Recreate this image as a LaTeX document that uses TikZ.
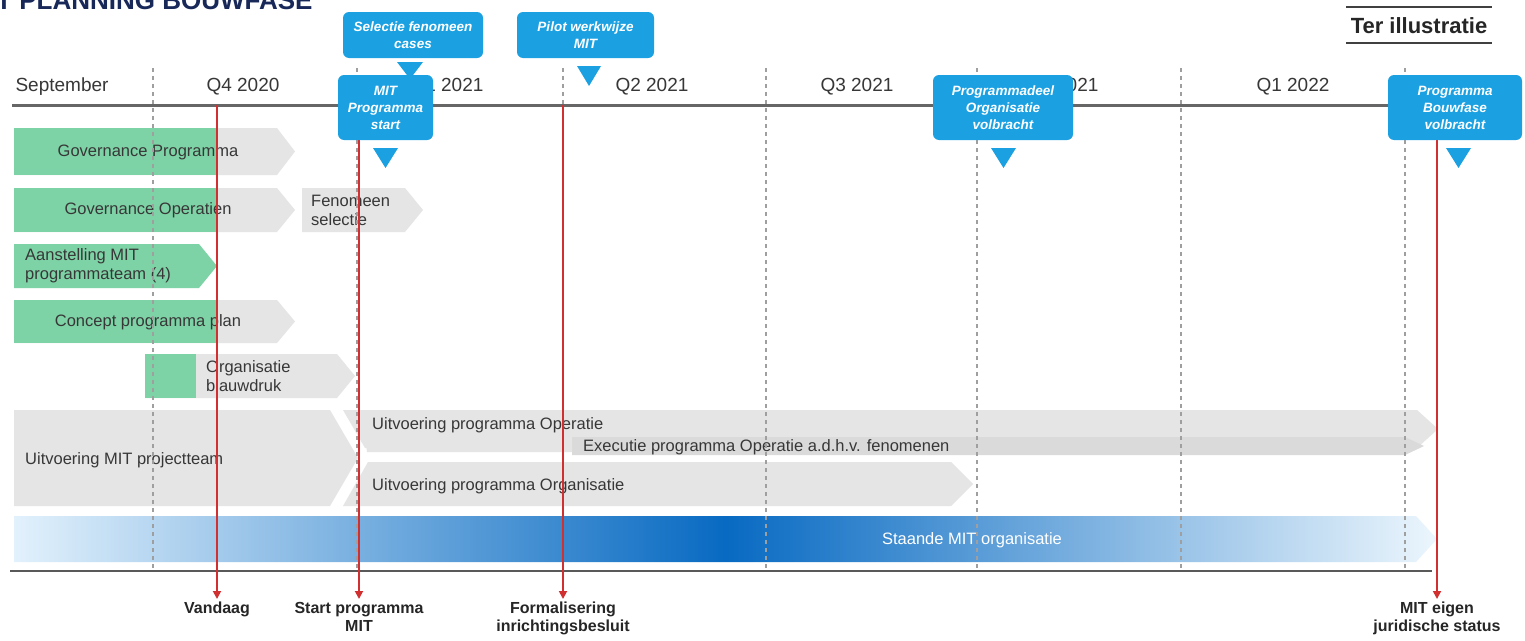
\documentclass[tikz,border=0pt]{standalone}
\usepackage{fontspec}
\setmainfont{Liberation Sans}
\usetikzlibrary{arrows.meta,calc}
\definecolor{bargray}{RGB}{229,229,229}
\definecolor{bargraydk}{RGB}{218,218,218}
\definecolor{mint}{RGB}{126,211,166}
\definecolor{callblue}{RGB}{27,161,226}
\definecolor{redln}{RGB}{208,48,48}
\definecolor{navy}{RGB}{24,40,88}
\definecolor{txt}{RGB}{55,55,55}
\definecolor{lightblue}{RGB}{226,241,252}
\definecolor{lightblueR}{RGB}{236,246,253}
\definecolor{deepblue}{RGB}{8,106,194}
\begin{document}
\begin{tikzpicture}[x=1pt,y=-1pt,
  bartext/.style={font=\fontsize{16.5}{19}\selectfont, text=txt, inner sep=0pt, align=left},
  qlabel/.style={font=\fontsize{19}{22}\selectfont, text=txt, inner sep=0pt},
  callout/.style={fill=callblue, rounded corners=6pt, text=white,
    font=\fontsize{13.5}{17}\selectfont\bfseries\itshape, align=center, inner sep=0pt},
  tri/.style={fill=callblue},
  grid/.style={draw=gray!75, line width=1.8pt, dash pattern=on 4pt off 4pt},
  redarrow/.style={draw=redln, line width=1.8pt, -{Triangle[length=8pt,width=8pt]}},
  milestone/.style={font=\fontsize{16}{18}\selectfont\bfseries, text=black!85, align=center, inner sep=0pt, anchor=north},
  ]
\useasboundingbox (0,0) rectangle (1525,640);
\fill[white] (0,0) rectangle (1525,640);

% title (cut off at top)
\node[anchor=base west, inner sep=0pt, font=\fontsize{26}{28}\selectfont\bfseries, text=navy] (title) at (-4,9) {T PLANNING BOUWFASE};

% Ter illustratie
\node[inner sep=0pt, font=\fontsize{22}{24}\selectfont\bfseries, text=black!85] (ter) at (1419,26) {Ter illustratie};
\draw[black!75, line width=1.6pt] (1346,7) -- (1492,7);
\draw[black!75, line width=1.6pt] (1346,43) -- (1492,43);

% timeline
\coordinate (tlL) at (12,105);
\coordinate (tlR) at (1500,105);
\draw[gray!80!black, line width=3pt] (tlL) -- (tlR);
\coordinate (blL) at (10,571);
\coordinate (blR) at (1432,571);
\draw[gray!70!black, line width=2.5pt] (blL) -- (blR);

% quarter labels
\node[qlabel] (qsep) at (62,87) {September};
\node[qlabel] (q420) at (243,87) {Q4 2020};
\node[qlabel] (q121) at (447,87) {Q1 2021};
\node[qlabel] (q221) at (652,87) {Q2 2021};
\node[qlabel] (q321) at (857,87) {Q3 2021};
\node[qlabel] (q421) at (1062,87) {Q4 2021};
\node[qlabel] (q122) at (1293,87) {Q1 2022};

% row 1
\fill[bargray] (14,128) -- (277,128) -- (295,151.5) -- (277,175) -- (14,175) -- cycle;
\fill[mint] (14,128) rectangle (217,175);
\node[bartext] (r1) at (148,152) {Governance Programma};
% row 2
\fill[bargray] (14,188) -- (277,188) -- (295,210) -- (277,232) -- (14,232) -- cycle;
\fill[mint] (14,188) rectangle (217,232);
\node[bartext] (r2) at (148,210) {Governance Operatien};
\fill[bargray] (302,188) -- (405,188) -- (423,210) -- (405,232) -- (302,232) -- cycle;
\node[bartext, anchor=west] (r2b) at (311,210) {Fenomeen\\selectie};
% row 3
\fill[mint] (14,244) -- (199,244) -- (217,266) -- (199,288) -- (14,288) -- cycle;
\node[bartext, anchor=west] (r3) at (25,266) {Aanstelling MIT\\programmateam (4)};
% row 4
\fill[bargray] (14,300) -- (277,300) -- (295,321.5) -- (277,343) -- (14,343) -- cycle;
\fill[mint] (14,300) rectangle (217,343);
\node[bartext] (r4) at (148,322) {Concept programma plan};
% row 5
\fill[bargray] (145,354) -- (337,354) -- (355,376) -- (337,398) -- (145,398) -- cycle;
\fill[mint] (145,354) rectangle (196,398);
\node[bartext, anchor=west] (r5) at (206,376) {Organisatie\\blauwdruk};

% row 6 big chevron
\fill[bargray] (14,410) -- (330,410) -- (358,458) -- (330,506) -- (14,506) -- cycle;
\node[bartext, anchor=west] (r6) at (25,460) {Uitvoering MIT projectteam};
% uitvoering operatie
\fill[bargray] (343,410) -- (1417,410) -- (1438,429) -- (1417,448) -- (365,448) -- cycle;
\fill[bargraydk] (572,437) -- (1405,437) -- (1424,446) -- (1405,455) -- (572,455) -- cycle;
\fill[bargray] (365,437) -- (572,437) -- (572,452) -- (367,452) -- cycle;
\node[bartext, anchor=west] (r6a) at (372,425) {Uitvoering programma Operatie};
\node[bartext, anchor=west] (r6b) at (583,447) {Executie programma Operatie a.d.h.v. fenomenen};
% uitvoering organisatie
\fill[bargray] (368,462) -- (951,462) -- (973,484) -- (951,506) -- (343,506) -- cycle;
\node[bartext, anchor=west] (r6c) at (372,486) {Uitvoering programma Organisatie};

% staande MIT organisatie
\shade[left color=lightblue, right color=lightblueR, middle color=deepblue]
  (14,516) -- (1416,516) -- (1437,539) -- (1416,562) -- (14,562) -- cycle;
\node[bartext, text=white] (r7) at (972,540) {Staande MIT organisatie};

% dashed grid lines
\foreach \gx/\gn in {153/ga,357/gb,563/gc,766/gd,977/ge,1181/gf,1405/gg}{
  \coordinate (\gn t) at (\gx,68);
  \coordinate (\gn b) at (\gx,570);
  \draw[grid] (\gn t) -- (\gn b);
}

% milestone labels and red arrows
\node[milestone] (mvand) at (217,602) {Vandaag};
\node[milestone] (mstart) at (359,602) {Start programma\\MIT};
\node[milestone] (mform) at (563,602) {Formalisering\\inrichtingsbesluit};
\node[milestone] (meigen) at (1437,602) {MIT eigen\\juridische status};
\coordinate (rv) at (217,105);
\coordinate (rs) at (359,140);
\coordinate (rf) at (563,105);
\coordinate (re) at (1437,140);
\draw[redarrow] (rv) -- ([yshift=3pt]mvand.north);
\draw[redarrow] (rs) -- ([yshift=3pt]mstart.north);
\draw[redarrow] (rf) -- ([yshift=3pt]mform.north);
\draw[redarrow] (re) -- ([yshift=3pt]meigen.north);

% callouts
\node[callout, minimum width=140pt, minimum height=46pt] (csel) at (413,35) {Selectie fenomeen\\cases};
\fill[tri] (397,62) -- (423,62) -- (410,79) -- cycle;
\node[callout, minimum width=137pt, minimum height=46pt] (cpil) at (585.5,35) {Pilot werkwijze\\MIT};
\fill[tri] (577,66) -- (601,66) -- (589,86) -- cycle;
\node[callout, minimum width=95pt, minimum height=65pt] (cmit) at (385.5,107.5) {MIT\\Programma\\start};
\fill[tri] (373,148) -- (398,148) -- (385.5,168) -- cycle;
\node[callout, minimum width=140pt, minimum height=65pt] (corg) at (1003,107.5) {Programmadeel\\Organisatie\\volbracht};
\fill[tri] (991,148) -- (1016,148) -- (1003.5,168) -- cycle;
\node[callout, minimum width=134pt, minimum height=65pt] (cbouw) at (1455,107.5) {Programma\\Bouwfase\\volbracht};
\fill[tri] (1446,148) -- (1471,148) -- (1458.5,168) -- cycle;
\end{tikzpicture}
\end{document}
